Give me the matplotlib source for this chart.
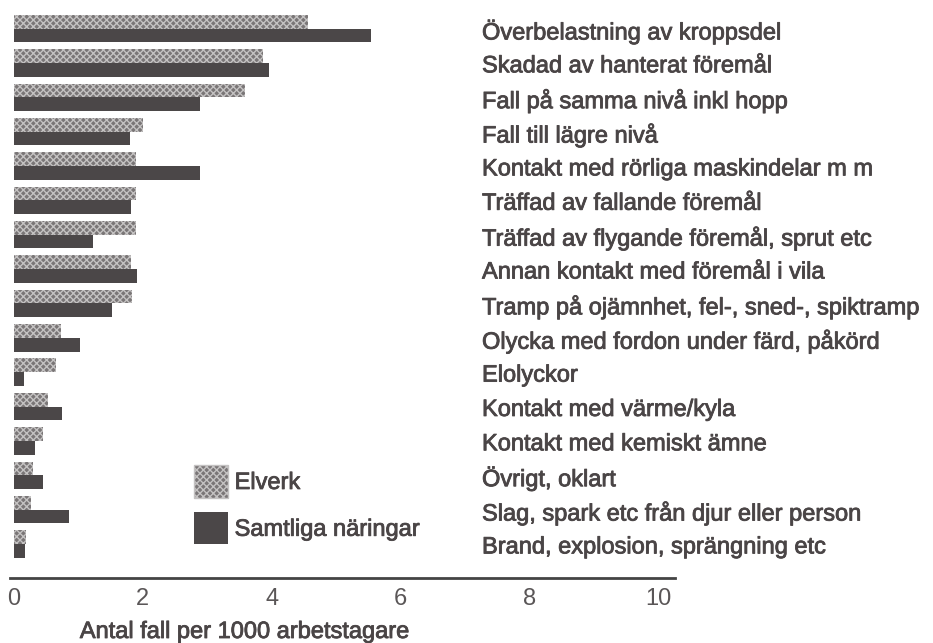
import numpy as np
import matplotlib
matplotlib.use("Agg")
import matplotlib.pyplot as plt
import matplotlib.transforms as mtransforms
import matplotlib.patheffects as pe
from matplotlib.patches import Patch

# olyckstyper (uppifrån och ned)
kategorier = [
    "Överbelastning av kroppsdel",
    "Skadad av hanterat föremål",
    "Fall på samma nivå inkl hopp",
    "Fall till lägre nivå",
    "Kontakt med rörliga maskindelar m m",
    "Träffad av fallande föremål",
    "Träffad av flygande föremål, sprut etc",
    "Annan kontakt med föremål i vila",
    "Tramp på ojämnhet, fel-, sned-, spiktramp",
    "Olycka med fordon under färd, påkörd",
    "Elolyckor",
    "Kontakt med värme/kyla",
    "Kontakt med kemiskt ämne",
    "Övrigt, oklart",
    "Slag, spark etc från djur eller person",
    "Brand, explosion, sprängning etc",
]

# antal fall per 1000 arbetstagare (avläst)
elverk = [4.56, 3.87, 3.59, 2.00, 1.89, 1.89, 1.89, 1.82,
          1.83, 0.73, 0.65, 0.53, 0.45, 0.30, 0.26, 0.19]
samtliga = [5.54, 3.95, 2.88, 1.80, 2.89, 1.82, 1.22, 1.91,
            1.52, 1.03, 0.16, 0.74, 0.33, 0.45, 0.86, 0.17]

xticks = [0, 2, 4, 6, 8, 10]

plt.rcParams['font.family'] = ['Liberation Sans', 'DejaVu Sans']

ljus = "#7a7677"
ljus_kant = "#c4c2c2"
mork = "#4b4748"
textfarg = "#4a4546"
fet = [pe.withStroke(linewidth=0.6, foreground=textfarg)]

fig = plt.figure(figsize=(9.33, 6.43), dpi=100)
ax = fig.add_axes([10 / 933, 1 - 578 / 643, 665 / 933, 578 / 643])

y = np.arange(len(kategorier))
h = 0.40
ax.barh(y - h / 2, elverk, height=h, color=ljus, edgecolor=ljus_kant,
        hatch="xxxxx", linewidth=0, label="Elverk")
ax.barh(y + h / 2, samtliga, height=h, color=mork, linewidth=0,
        label="Samtliga näringar")

ax.set_xlim(-0.06, 10.25)
ax.set_ylim(15.99, -0.83)

for s in ["top", "right", "left"]:
    ax.spines[s].set_visible(False)
ax.spines["bottom"].set_linewidth(2)
ax.spines["bottom"].set_color("#444444")

ax.set_yticks([])
ax.set_xticks(xticks)
ax.set_xticklabels([str(t) for t in xticks], fontsize=17, color="#5a5657")
ax.tick_params(axis="x", length=0, pad=7)

# kategoritexter till höger om staplarna
trans = mtransforms.blended_transform_factory(fig.transFigure, ax.transData)
for i, namn in enumerate(kategorier):
    ax.text(482 / 933, i + 0.1, namn, transform=trans,
            ha="left", va="center", fontsize=17, color=textfarg,
            path_effects=fet)

fig.text(245 / 933, 1 - 632 / 643, "Antal fall per 1000 arbetstagare",
         ha="center", va="center", fontsize=17, color=textfarg,
         path_effects=fet)

handles = [Patch(facecolor=ljus, edgecolor=ljus_kant, hatch="xxxxx", label="Elverk"),
           Patch(facecolor=mork, label="Samtliga näringar")]
leg = fig.legend(handles=handles, loc="upper left",
                 bbox_to_anchor=(194 / 933, 1 - 465 / 643), frameon=False,
                 fontsize=17, handlelength=1.42, handleheight=1.75,
                 handletextpad=0.3, labelspacing=0.6, borderaxespad=0,
                 borderpad=0)
for t in leg.get_texts():
    t.set_color(textfarg)
    t.set_path_effects(fet)

fig.savefig("out.png", dpi=100, facecolor="white")
